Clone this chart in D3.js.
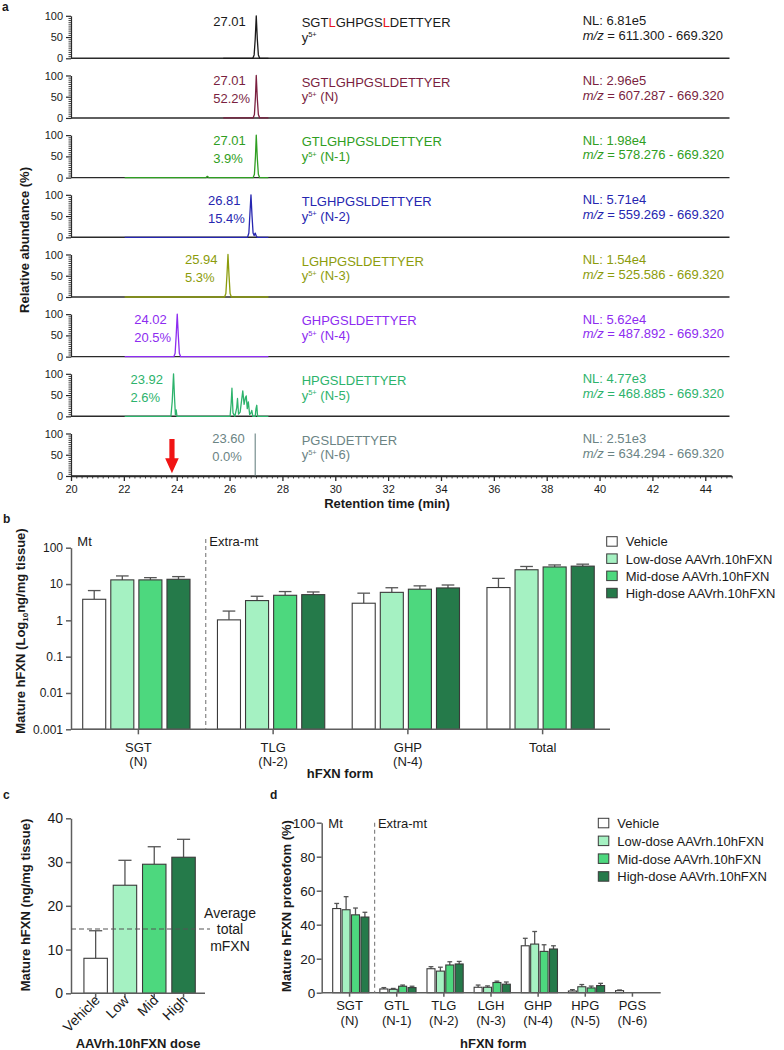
<!DOCTYPE html>
<html><head><meta charset="utf-8">
<script src="https://cdn.jsdelivr.net/npm/d3@7"></script>
<style>
body{margin:0;background:#fff}
svg{display:block}
text{font-family:"Liberation Sans",Arial,Helvetica,sans-serif}
</style>
</head><body>
<svg id="fig" width="784" height="1050"></svg>
<script>
// ================= DATA =================
// Panel a: extracted ion chromatograms
const rtMajorTicks = [20,22,24,26,28,30,32,34,36,38,40,42,44];
const abundanceTicks = [0,50,100];
const peptides = ["SGTLGHPGSLDETTYER","SGTLGHPGSLDETTYER","GTLGHPGSLDETTYER","TLGHPGSLDETTYER","LGHPGSLDETTYER","GHPGSLDETTYER","HPGSLDETTYER","PGSLDETTYER"];
const ionSuffix = [""," (N)"," (N-1)"," (N-2)"," (N-3)"," (N-4)"," (N-5)"," (N-6)"];
const nlValues = ["6.81e5","2.96e5","1.98e4","5.71e4","1.54e4","5.62e4","4.77e3","2.51e3"];
const mzRanges = ["611.300 - 669.320","607.287 - 669.320","578.276 - 669.320","559.269 - 669.320","525.586 - 669.320","487.892 - 669.320","468.885 - 669.320","634.294 - 669.320"];
const rtLabels = ["27.01","27.01","27.01","26.81","25.94","24.02","23.92","23.60"];
const pctLabels = ["","52.2%","3.9%","15.4%","5.3%","20.5%","2.6%","0.0%"];
const traceColors = ["#1a1a1a","#7a1f3f","#2f9e22","#2626b0","#8c9c0c","#8d2cf0","#2db36c","#6b8484"];
const redLetterIdx = [3,9];
const arrowRT = 23.82;

const traceP1 = [[25.76,0],[26.88,0],[26.93,8],[26.97,45],[27.01,100],[27.05,45],[27.09,8],[27.14,0],[27.47,0]];
const traceP2 = [[25.76,0],[26.89,0],[26.94,8],[26.98,50],[27.01,100],[27.05,45],[27.09,8],[27.14,0],[27.47,0]];
const traceP3 = [[22.03,0],[25.10,0],[25.16,3],[25.22,0],[26.89,0],[26.94,8],[26.98,50],[27.01,100],[27.05,45],[27.09,8],[27.14,0],[27.47,0]];
const traceP4 = [[22.03,0],[26.68,0],[26.73,10],[26.77,55],[26.81,100],[26.85,50],[26.89,10],[26.93,4],[26.97,10],[27.01,3],[27.05,0],[27.47,0]];
const traceP5 = [[22.03,0],[25.81,0],[25.86,8],[25.90,50],[25.94,100],[25.98,50],[26.02,8],[26.07,0],[27.47,0]];
const traceP6 = [[22.03,0],[23.89,0],[23.94,8],[23.98,50],[24.02,100],[24.06,50],[24.10,8],[24.15,0],[27.47,0]];
const traceP7 = [[22.03,0],[23.78,0],[23.83,35],[23.88,100],[23.92,40],[23.95,4],[23.98,15],[24.01,0],[26.02,0],[26.06,30],[26.09,66],[26.13,8],[26.20,0],[26.27,20],[26.30,42],[26.34,5],[26.40,10],[26.46,40],[26.50,60],[26.55,28],[26.60,44],[26.63,48],[26.67,18],[26.71,34],[26.76,4],[26.81,8],[26.84,14],[26.88,0],[26.97,0],[27.00,18],[27.03,26],[27.06,0],[27.47,0]];
const traceP8 = [[26.97,0],[26.97,100]];
const traces = [traceP1,traceP2,traceP3,traceP4,traceP5,traceP6,traceP7,traceP8];

// Shared dose groups
const doses = ["Vehicle","Low-dose AAVrh.10hFXN","Mid-dose AAVrh.10hFXN","High-dose AAVrh.10hFXN"];
const doseColors = ["#ffffff","#a5f1c2","#4dd87e","#257a4a"];

// Panel b: log concentration by form (mean, mean+SD)
const bGroups = ["SGT","TLG","GHP","Total"];
const bGroupSub = ["(N)","(N-2)","(N-4)",""];
const bVehicle = [3.8, 1.03, 2.96, 8.0];
const bLow     = [13.0, 3.5, 5.9, 24.7];
const bMid     = [13.0, 4.9, 7.2, 29.5];
const bHigh    = [13.5, 5.1, 7.8, 31.1];
const bVehicleTop = [6.6, 1.8, 5.6, 14.3];
const bLowTop     = [16.7, 4.6, 7.9, 30.4];
const bMidTop     = [15.0, 6.2, 8.9, 33.5];
const bHighTop    = [16.0, 6.05, 9.4, 35.2];
const bTicks = [0.001,0.01,0.1,1,10,100];

// Panel c: total mature hFXN by dose
const cDoses = ["Vehicle","Low","Mid","High"];
const cMeans = [8.0, 24.7, 29.5, 31.1];
const cTops  = [14.3, 30.4, 33.5, 35.2];
const cTicks = [0,10,20,30,40];
const mFXNavg = 14.7;

// Panel d: proteoform percentages
const dGroups = ["SGT","GTL","TLG","LGH","GHP","HPG","PGS"];
const dGroupSub = ["(N)","(N-1)","(N-2)","(N-3)","(N-4)","(N-5)","(N-6)"];
const dVehicle = [49.5, 2.2, 14.1, 3.2, 27.6, 1.0, 1.2];
const dLow     = [48.8, 2.0, 12.7, 3.2, 28.6, 3.5, 0];
const dMid     = [45.8, 3.8, 16.3, 6.0, 24.3, 2.8, 0];
const dHigh    = [44.5, 3.0, 16.9, 5.0, 25.7, 4.2, 0];
const dVehicleTop = [52.5, 3.0, 15.3, 4.5, 32.0, 1.8, 1.6];
const dLowTop     = [56.5, 2.5, 15.0, 4.0, 36.0, 4.8, 0];
const dMidTop     = [49.8, 4.5, 18.2, 6.8, 28.2, 3.9, 0];
const dHighTop    = [47.3, 3.8, 18.4, 6.3, 27.6, 5.5, 0];
const dTicks = [0,20,40,60,80,100];

// ================= DRAWING =================
const svg = d3.select("#fig");
const INK = "#1a1a1a", AXC = "#5e5e5e", BAR_STROKE = "#3a3a3a";

function txt(g, x, y, s, o = {}) {
  return g.append("text").attr("x", x).attr("y", y).text(s)
    .attr("font-size", o.size || 13).attr("fill", o.color || INK)
    .attr("text-anchor", o.anchor || "start")
    .attr("font-weight", o.weight || "normal");
}
function styleAxis(sel, color, width, fs) {
  sel.select(".domain").attr("stroke", color).attr("stroke-width", width);
  sel.selectAll(".tick line").attr("stroke", color).attr("stroke-width", width);
  sel.selectAll(".tick text").attr("fill", INK).attr("font-size", fs)
     .attr("font-family", '"Liberation Sans",Arial,sans-serif');
}

// Panel letters
[["a",2,11],["b",3,523],["c",3,799],["d",270,799]].forEach(([l,x,y]) => txt(svg,x,y,l,{weight:"bold",size:12}));

// ---------- Panel a ----------
const aLeft = 71, aRight = 731.7, aBase0 = 58.3, aStep = 59.67, aH = 42.5;
const xA = d3.scaleLinear().domain([20,45]).range([aLeft, aRight]);
const gA = svg.append("g");

traces.forEach((tr, i) => {
  const base = aBase0 + i * aStep;
  const top = base - aH;
  const yA = d3.scaleLinear().domain([0,100]).range([base, top]);
  const col = traceColors[i];
  const g = gA.append("g");

  g.append("line").attr("x1", aLeft).attr("x2", i === 7 ? aRight : 729.5)
    .attr("y1", base).attr("y2", base).attr("stroke", "#2a2a2a").attr("stroke-width", 1.4);

  const ax = g.append("g").attr("transform", `translate(${aLeft},0)`)
    .call(d3.axisLeft(yA).tickValues(abundanceTicks).tickSize(5).tickSizeOuter(0).tickPadding(3));
  styleAxis(ax, "#2a2a2a", 1.2, 11);
  const axm = g.append("g").attr("transform", `translate(${aLeft},0)`)
    .call(d3.axisLeft(yA).tickValues(d3.range(0,101,5).filter(v => v % 50 !== 0)).tickSize(2.5).tickFormat(""));
  axm.select(".domain").remove();
  axm.selectAll(".tick line").attr("stroke", "#2a2a2a").attr("stroke-width", 0.9);

  g.append("path").datum(tr)
    .attr("d", d3.line().x(d => xA(d[0])).y(d => yA(d[1])))
    .attr("fill", "none").attr("stroke", col).attr("stroke-width", i === 7 ? 1.1 : 1.3)
    .attr("stroke-linejoin", "round");

  const apex = tr.reduce((a, b) => (b[1] > a[1] ? b : a));
  const lx = xA(apex[0]) - 43;
  txt(g, lx, top + 10, rtLabels[i], {color: col});
  if (pctLabels[i]) txt(g, lx, top + 28, pctLabels[i], {color: col});

  const pt = g.append("text").attr("x", 301.7).attr("y", base - 31.3)
    .attr("font-size", 13).attr("fill", col);
  if (i === 0) {
    const s = peptides[i];
    let start = 0;
    const cuts = [];
    redLetterIdx.forEach(k => { cuts.push([s.slice(start, k), col]); cuts.push([s[k], "#e8141b"]); start = k + 1; });
    cuts.push([s.slice(start), col]);
    cuts.forEach(([seg, c]) => pt.append("tspan").text(seg).attr("fill", c));
  } else pt.text(peptides[i]);

  const it = g.append("text").attr("x", 301.7).attr("y", base - 16.5)
    .attr("font-size", 13).attr("fill", col);
  it.append("tspan").text("y");
  it.append("tspan").text("5+").attr("font-size", 7.5).attr("dy", -4.5);
  if (ionSuffix[i]) it.append("tspan").text(ionSuffix[i]).attr("font-size", 13).attr("dy", 4.5);

  txt(g, 582.7, base - 33, "NL: " + nlValues[i], {color: col});
  const mz = g.append("text").attr("x", 582.7).attr("y", base - 18.2).attr("font-size", 13).attr("fill", col);
  mz.append("tspan").text("m/z").attr("font-style", "italic");
  mz.append("tspan").text(" = " + mzRanges[i]);

  if (i === 7) {
    const xa = g.append("g").attr("transform", `translate(0,${base})`)
      .call(d3.axisBottom(xA).tickValues(rtMajorTicks).tickSize(5).tickSizeOuter(0).tickPadding(4));
    styleAxis(xa, "#2a2a2a", 1.3, 11);
    const xm = g.append("g").attr("transform", `translate(0,${base})`)
      .call(d3.axisBottom(xA).tickValues(d3.range(0, 126).map(k => 20 + k * 0.2).filter(v => Math.abs(v/2 - Math.round(v/2)) > 0.01)).tickSize(2.5).tickFormat(""));
    xm.select(".domain").remove();
    xm.selectAll(".tick line").attr("stroke", "#2a2a2a").attr("stroke-width", 0.9);

    const ax0 = xA(arrowRT);
    g.append("path")
      .attr("d", `M${ax0-2.6},${base-37} L${ax0+2.6},${base-37} L${ax0+2.6},${base-17.7} L${ax0+6.8},${base-17.7} L${ax0},${base-2.7} L${ax0-6.8},${base-17.7} L${ax0-2.6},${base-17.7} Z`)
      .attr("fill", "#f01414");
  }
});
txt(svg, 387, 508, "Retention time (min)", {weight: "bold", anchor: "middle"});
svg.append("text").attr("transform", "translate(29,240) rotate(-90)").attr("text-anchor", "middle")
  .attr("font-size", 13).attr("font-weight", "bold").attr("fill", INK).text("Relative abundance (%)");

// ---------- helpers for bar panels ----------
function drawBars(g, xGroupFn, xInner, yS, means, tops, groups, baseY, capFrac) {
  means.forEach((arr, di) => {
    arr.forEach((v, gi) => {
      const x = xGroupFn(groups[gi]) + xInner(doses[di]);
      const w = xInner.bandwidth();
      const cx = x + w / 2;
      if (v > 0) {
        const top = tops[di][gi];
        g.append("line").attr("x1", cx).attr("x2", cx).attr("y1", yS(v)).attr("y2", yS(top))
          .attr("stroke", "#555").attr("stroke-width", 1.3);
        g.append("line").attr("x1", cx - w * capFrac / 2).attr("x2", cx + w * capFrac / 2)
          .attr("y1", yS(top)).attr("y2", yS(top)).attr("stroke", "#555").attr("stroke-width", 1.3);
        g.append("rect").attr("x", x).attr("y", yS(v)).attr("width", w).attr("height", baseY - yS(v))
          .attr("fill", doseColors[di]).attr("stroke", BAR_STROKE).attr("stroke-width", 1.1);
      }
    });
  });
}
function legend(g, x, y0, dy) {
  doses.forEach((d, i) => {
    const y = y0 + i * dy;
    g.append("rect").attr("x", x).attr("y", y - 5).attr("width", 10.5).attr("height", 9.5)
      .attr("fill", doseColors[i]).attr("stroke", BAR_STROKE).attr("stroke-width", 1);
    txt(g, x + 19, y + 4.6, d, {size: 13});
  });
}

// ---------- Panel b ----------
const gB = svg.append("g");
const bBase = 729.3;
const xB0 = d3.scaleBand().domain(bGroups).range([71, 610]);
const xB1 = d3.scaleBand().domain(doses).range([11.7, 119]).paddingInner(0.18);
const yB = d3.scaleLog().domain([0.001, 100]).range([bBase, 547.7]);
drawBars(gB, g => xB0(g), xB1, yB, [bVehicle,bLow,bMid,bHigh], [bVehicleTop,bLowTop,bMidTop,bHighTop], bGroups, bBase, 0.55);
const byAx = gB.append("g").attr("transform", "translate(71,0)")
  .call(d3.axisLeft(yB).tickValues(bTicks).tickFormat(d => String(d)).tickSize(5).tickSizeOuter(0).tickPadding(3));
styleAxis(byAx, AXC, 1.5, 12);
gB.append("line").attr("x1", 71).attr("x2", 610).attr("y1", bBase).attr("y2", bBase).attr("stroke", AXC).attr("stroke-width", 1.5);
bGroups.forEach((gname, i) => {
  const cx = xB0(gname) + xB0.bandwidth() / 2;
  gB.append("line").attr("x1", cx).attr("x2", cx).attr("y1", bBase).attr("y2", bBase + 5).attr("stroke", AXC).attr("stroke-width", 1.5);
  txt(gB, cx, 751.8, gname, {anchor: "middle"});
  if (bGroupSub[i]) txt(gB, cx, 766.4, bGroupSub[i], {anchor: "middle"});
});
const bDiv = xB0(bGroups[1]);
gB.append("line").attr("x1", bDiv).attr("x2", bDiv).attr("y1", 539).attr("y2", bBase)
  .attr("stroke", "#7a7a7a").attr("stroke-width", 1.1).attr("stroke-dasharray", "4,3");
txt(gB, 77.3, 546.4, "Mt");
txt(gB, bDiv + 3.6, 546.4, "Extra-mt");
txt(gB, 340, 778, "hFXN form", {weight: "bold", anchor: "middle"});
const bYl = gB.append("text").attr("transform", "translate(25,631) rotate(-90)").attr("text-anchor", "middle")
  .attr("font-size", 13).attr("font-weight", "bold").attr("fill", INK);
bYl.append("tspan").text("Mature hFXN (Log");
bYl.append("tspan").text("10").attr("font-size", 8).attr("dy", 3);
bYl.append("tspan").text("ng/mg tissue)").attr("dy", -3);
legend(gB, 606.7, 541.7, 17.2);

// ---------- Panel c ----------
const gC = svg.append("g");
const cBase = 993.3;
const xC = d3.scaleBand().domain(cDoses).range([81, 198.2]).paddingInner(0.2).paddingOuter(0.1);
const yC = d3.scaleLinear().domain([0, 40]).range([cBase, 818.3]);
cDoses.forEach((dn, i) => {
  const x = xC(dn), w = xC.bandwidth(), cx = x + w / 2;
  gC.append("line").attr("x1", cx).attr("x2", cx).attr("y1", yC(cMeans[i])).attr("y2", yC(cTops[i])).attr("stroke", "#555").attr("stroke-width", 1.3);
  gC.append("line").attr("x1", cx - w * 0.28).attr("x2", cx + w * 0.28).attr("y1", yC(cTops[i])).attr("y2", yC(cTops[i])).attr("stroke", "#555").attr("stroke-width", 1.3);
  gC.append("rect").attr("x", x).attr("y", yC(cMeans[i])).attr("width", w).attr("height", cBase - yC(cMeans[i]))
    .attr("fill", doseColors[i]).attr("stroke", BAR_STROKE).attr("stroke-width", 1.1);
  gC.append("line").attr("x1", cx).attr("x2", cx).attr("y1", cBase).attr("y2", cBase + 4).attr("stroke", AXC).attr("stroke-width", 1.5);
  gC.append("text").attr("transform", `translate(${cx + 5},1001) rotate(-45)`).attr("text-anchor", "end")
    .attr("font-size", 14).attr("fill", INK).text(dn);
});
const cyAx = gC.append("g").attr("transform", "translate(71,0)")
  .call(d3.axisLeft(yC).tickValues(cTicks).tickSize(5).tickSizeOuter(0).tickPadding(3));
styleAxis(cyAx, AXC, 1.5, 14);
gC.append("line").attr("x1", 71).attr("x2", 205).attr("y1", cBase).attr("y2", cBase).attr("stroke", AXC).attr("stroke-width", 1.5);
gC.append("line").attr("x1", 71).attr("x2", 210).attr("y1", yC(mFXNavg)).attr("y2", yC(mFXNavg))
  .attr("stroke", "#555").attr("stroke-width", 1.2).attr("stroke-dasharray", "5,3");
txt(gC, 230, 918, "Average", {anchor: "middle", size: 14});
txt(gC, 230, 934, "total", {anchor: "middle", size: 14});
txt(gC, 230, 950.5, "mFXN", {anchor: "middle", size: 14});
txt(gC, 138, 1048, "AAVrh.10hFXN dose", {weight: "bold", anchor: "middle"});
gC.append("text").attr("transform", "translate(30,905) rotate(-90)").attr("text-anchor", "middle")
  .attr("font-size", 13).attr("font-weight", "bold").attr("fill", INK).text("Mature hFXN (ng/mg tissue)");

// ---------- Panel d ----------
const gD = svg.append("g");
const dBase = 992.7;
const xD0 = d3.scaleBand().domain(dGroups).range([326, 656]);
const xD1 = d3.scaleBand().domain(doses).range([6.7, 42.9]).paddingInner(0.15);
const yD = d3.scaleLinear().domain([0, 100]).range([dBase, 822.7]);
drawBars(gD, g => xD0(g), xD1, yD, [dVehicle,dLow,dMid,dHigh], [dVehicleTop,dLowTop,dMidTop,dHighTop], dGroups, dBase, 0.6);
const dyAx = gD.append("g").attr("transform", "translate(321.7,0)")
  .call(d3.axisLeft(yD).tickValues(dTicks).tickSize(5).tickSizeOuter(0).tickPadding(1.5));
styleAxis(dyAx, AXC, 1.5, 13.5);
gD.append("line").attr("x1", 321.7).attr("x2", 660.7).attr("y1", dBase).attr("y2", dBase).attr("stroke", AXC).attr("stroke-width", 1.5);
dGroups.forEach((gname, i) => {
  const cx = xD0(gname) + xD0.bandwidth() / 2;
  gD.append("line").attr("x1", cx).attr("x2", cx).attr("y1", dBase).attr("y2", dBase + 4).attr("stroke", AXC).attr("stroke-width", 1.5);
  txt(gD, cx, 1010.3, gname, {anchor: "middle"});
  txt(gD, cx, 1024.9, dGroupSub[i], {anchor: "middle"});
});
const dDiv = xD0(dGroups[1]) + 1.5;
gD.append("line").attr("x1", dDiv).attr("x2", dDiv).attr("y1", 822.7).attr("y2", dBase)
  .attr("stroke", "#7a7a7a").attr("stroke-width", 1.1).attr("stroke-dasharray", "4,3");
txt(gD, 328.3, 828, "Mt");
txt(gD, dDiv + 3.3, 828, "Extra-mt");
txt(gD, 493.3, 1048, "hFXN form", {weight: "bold", anchor: "middle"});
gD.append("text").attr("transform", "translate(291,906) rotate(-90)").attr("text-anchor", "middle")
  .attr("font-size", 13).attr("font-weight", "bold").attr("fill", INK).text("Mature hFXN proteofom (%)");
legend(gD, 598.3, 823.3, 17.8);
</script>
</body></html>
